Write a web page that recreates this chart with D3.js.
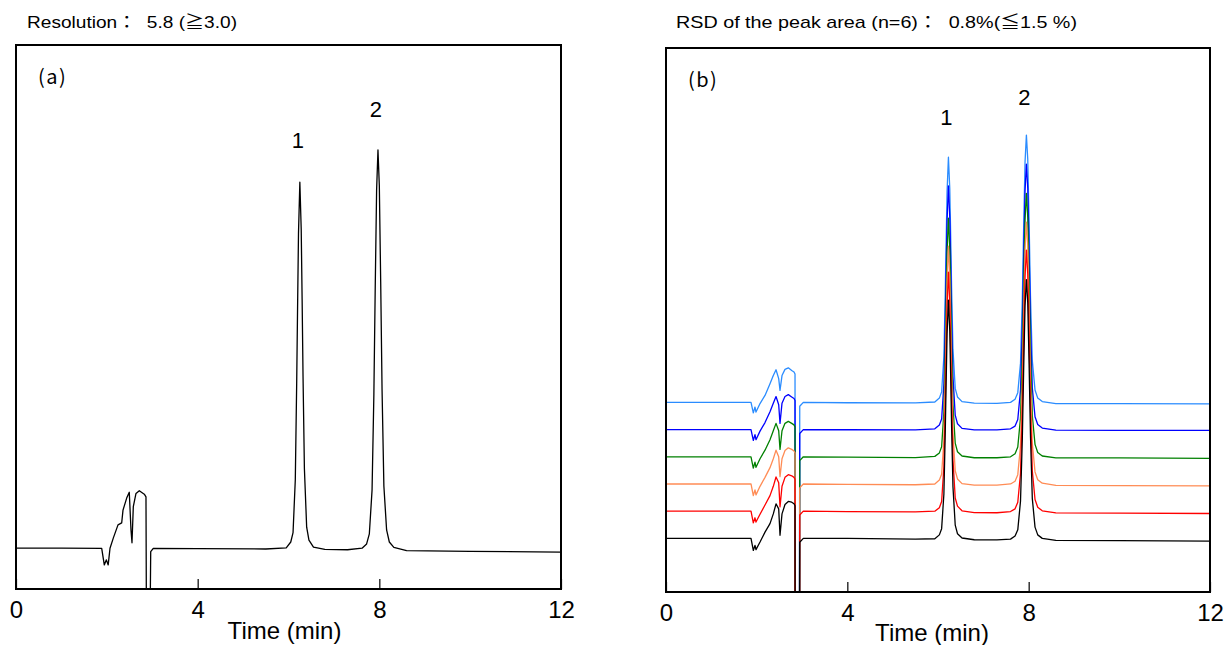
<!DOCTYPE html>
<html><head><meta charset="utf-8">
<script src="https://cdn.jsdelivr.net/npm/d3@7"></script>
<style>body{margin:0;background:#fff}svg{display:block}text{white-space:pre}</style>
</head><body>
<svg id="c" width="1225" height="645"></svg>
<script>
// ---- data ----
const titleA = "Resolution：  5.8 (≧3.0)";
const titleB = "RSD of the peak area (n=6)：  0.8%(≦1.5 %)";
const xTicks = [0, 4, 8, 12];
const xDomain = [0, 12];
const yDomain = [-10, 130];
const peakLabels = ["1", "2"];

// panel (a): single chromatogram
const timeA = [0, 1.0, 1.887, 1.944, 1.99, 2.03, 2.07, 2.142, 2.246, 2.327, 2.356, 2.437, 2.494, 2.532, 2.554, 2.583, 2.642, 2.715, 2.825, 2.862, 2.878, 2.935, 2.966, 3.023, 4.0, 5.5,
  5.95, 6.05, 6.10, 6.15, 6.18, 6.20, 6.22, 6.25, 6.28, 6.30, 6.32, 6.35, 6.40, 6.45, 6.55,
  6.8, 7.3,
  7.62, 7.72, 7.78, 7.84, 7.88, 7.91, 7.94, 7.97, 8.00, 8.03, 8.06, 8.10, 8.16, 8.22, 8.32,
  8.6, 10, 12];
const signalA = [0.5, 0.5, 0.46, -3.8, -2.5, -3.8, 0.5, 3.1, 6.5, 7.0, 10.3, 13.4, 14.9, 5.2, 1.9, 11.2, 14.6, 15.3, 14.4, 13.7, -40, -40, -0.4, 0.46, 0.4, 0.3,
  0.6, 2.1, 4.5, 18.2, 42.8, 62.6, 81.5, 94.7, 82.5, 64.5, 44.7, 21.0, 5.9, 2.6, 0.8,
  0.2, 0.1,
  0.5, 1.6, 4.2, 15.5, 40.2, 68.0, 92.7, 103.0, 93.7, 69.0, 41.2, 16.5, 5.2, 2.1, 0.7,
  -0.1, -0.3, -0.5];
const peakTimesA = [6.25, 7.97];
const peakLabelValA = [103.5, 111.4];

// panel (b): six overlaid (offset) injections
const timeB = [0, 1.0, 1.875, 1.926, 1.963, 1.985, 2.074, 2.184, 2.294, 2.367, 2.427, 2.486, 2.515, 2.559, 2.625, 2.698, 2.773, 2.824, 2.846, 2.86, 2.93, 2.95, 3.029, 4.0, 5.5,
  5.93, 6.03, 6.08, 6.13, 6.16, 6.18, 6.20, 6.23, 6.26, 6.28, 6.30, 6.33, 6.38, 6.43, 6.53,
  6.8, 7.3,
  7.60, 7.70, 7.76, 7.82, 7.86, 7.89, 7.92, 7.95, 7.98, 8.01, 8.04, 8.08, 8.14, 8.20, 8.30,
  8.6, 10, 12];
const run6 = [38.8, 38.8, 38.8, 36.1, 37.6, 36.3, 38.5, 40.6, 43.6, 45.7, 47.2, 44.9, 41.9, 45.7, 47.3, 47.7, 47.0, 46.6, 46.1, -150, -150, 37.8, 38.8, 38.7, 38.65,
  38.9, 39.9, 41.5, 50.6, 67.1, 80.4, 93.0, 101.9, 93.7, 81.6, 68.4, 52.5, 42.4, 40.2, 39.0,
  38.6, 38.55,
  38.8, 39.6, 41.3, 48.9, 65.5, 84.1, 100.7, 107.6, 101.3, 84.8, 66.2, 49.6, 42.0, 39.9, 39.0,
  38.5, 38.5, 38.4];
const run5 = [31.8, 31.8, 31.8, 29.0, 30.5, 29.2, 31.4, 33.6, 36.4, 38.6, 40.3, 38.2, 33.4, 38.6, 40.3, 40.8, 40.2, 39.8, 39.3, -150, -150, 30.8, 31.8, 31.75, 31.7,
  32.0, 33.0, 34.5, 43.6, 60.0, 73.1, 85.7, 94.5, 86.3, 74.4, 61.2, 45.5, 35.5, 33.3, 32.1,
  31.7, 31.7,
  32.0, 32.7, 34.4, 42.0, 58.4, 76.8, 93.3, 100.1, 93.9, 77.5, 59.1, 42.6, 35.1, 33.1, 32.2,
  31.65, 31.6, 31.6];
const run4 = [24.8, 24.8, 24.8, 21.9, 23.4, 22.1, 24.3, 26.5, 29.2, 31.5, 33.4, 31.5, 26.7, 31.5, 33.4, 33.9, 33.4, 33.0, 32.5, -150, -150, 23.8, 24.8, 24.7, 24.6,
  24.9, 25.8, 27.4, 36.3, 52.3, 65.3, 77.6, 86.2, 78.2, 66.5, 53.6, 38.2, 28.3, 26.1, 25.0,
  24.55, 24.55,
  24.8, 25.6, 27.3, 34.8, 51.1, 69.5, 85.8, 92.6, 86.4, 70.1, 51.8, 35.4, 28.0, 25.9, 25.0,
  24.5, 24.5, 24.4];
const run3 = [17.8, 17.8, 17.8, 14.8, 16.3, 15.0, 17.2, 19.5, 22.0, 24.3, 26.5, 24.8, 19.7, 24.3, 26.4, 27.1, 26.7, 26.3, 25.8, -150, -150, 16.8, 17.8, 17.7, 17.6,
  17.8, 18.8, 20.3, 29.2, 45.2, 58.1, 70.4, 79.0, 71.0, 59.3, 46.4, 31.0, 21.2, 19.1, 17.9,
  17.5, 17.5,
  17.8, 18.5, 20.2, 27.7, 43.9, 62.2, 78.4, 85.2, 79.1, 62.9, 44.6, 28.3, 20.9, 18.9, 18.0,
  17.45, 17.4, 17.3];
const run2 = [10.8, 10.8, 10.8, 7.8, 9.1, 8.0, 10.0, 12.4, 14.8, 17.2, 19.6, 18.1, 11.9, 17.2, 19.5, 20.2, 19.9, 19.5, 19.0, -150, -150, 9.8, 10.8, 10.7, 10.6,
  10.8, 11.7, 13.3, 22.2, 38.3, 51.3, 63.6, 72.3, 64.3, 52.5, 39.5, 24.1, 14.2, 12.1, 10.9,
  10.45, 10.4,
  10.7, 11.4, 13.1, 20.5, 36.8, 55.0, 71.2, 78.0, 71.9, 55.7, 37.4, 21.2, 13.8, 11.8, 10.9,
  10.35, 10.3, 10.2];
const run1 = [3.8, 3.8, 3.8, 0.7, 2.0, 0.9, 2.85, 5.4, 7.6, 10.1, 12.7, 11.4, 4.6, 10.1, 12.5, 13.3, 13.1, 12.7, 12.2, -150, -150, 2.8, 3.8, 3.8, 3.6,
  3.7, 4.7, 6.3, 15.2, 31.2, 44.2, 56.5, 65.1, 57.1, 45.4, 32.5, 17.1, 7.2, 5.0, 3.9,
  3.45, 3.4,
  3.6, 4.4, 6.0, 13.4, 29.5, 47.6, 63.7, 70.4, 64.4, 48.3, 30.2, 14.1, 6.7, 4.7, 3.8,
  3.3, 3.2, 3.1];
const runsB = [run6, run5, run4, run3, run2, run1];
const runColors = ["#2a8cff", "#0000ff", "#008000", "#ff8c55", "#ff0000", "#000000"];
const peakTimesB = [6.23, 7.95];
const peakLabelValB = [110.2, 115.3];

// ---- drawing ----
const svg = d3.select("#c");
const fontLatin = "'Liberation Sans', Arial, 'Noto Sans CJK JP', sans-serif";

function panel(opts) {
  const g = svg.append("g");
  const x = d3.scaleLinear().domain(xDomain).range([opts.left, opts.right]);
  const y = d3.scaleLinear().domain(yDomain).range([opts.bottom, opts.top]);
  const clipId = "clip" + opts.id;
  svg.append("clipPath").attr("id", clipId).append("rect")
    .attr("x", opts.left).attr("y", opts.top)
    .attr("width", opts.right - opts.left).attr("height", opts.bottom - opts.top);

  const line = d3.line().x(d => x(d[0])).y(d => y(d[1]));
  const tg = g.append("g").attr("clip-path", `url(#${clipId})`);
  opts.series.forEach((vals, i) => {
    tg.append("path")
      .datum(opts.time.map((t, k) => [t, vals[k]]))
      .attr("d", line)
      .attr("fill", "none")
      .attr("stroke", opts.colors[i])
      .attr("stroke-width", 1.3)
      .attr("stroke-linejoin", "round");
  });

  // axis
  const ax = g.append("g").attr("transform", `translate(0,${opts.bottom})`)
    .call(d3.axisBottom(x).tickValues(xTicks).tickFormat(d3.format("d"))
      .tickSizeInner(-10).tickSizeOuter(0).tickPadding(12));
  ax.select(".domain").remove();
  ax.selectAll(".tick line").attr("stroke", "#000").attr("stroke-width", 1.2);
  ax.selectAll(".tick text").attr("font-family", fontLatin).attr("font-size", 24).attr("fill", "#000");

  // frame
  g.append("rect").attr("x", opts.left).attr("y", opts.top)
    .attr("width", opts.right - opts.left).attr("height", opts.bottom - opts.top)
    .attr("fill", "none").attr("stroke", "#000").attr("stroke-width", 2);

  // axis title
  g.append("text").attr("x", (opts.left + opts.right) / 2 + opts.titleDx).attr("y", opts.bottom + opts.titleDy)
    .attr("text-anchor", "middle").attr("font-family", fontLatin).attr("font-size", 24)
    .text("Time (min)");

  // panel label
  g.append("text").attr("x", opts.left + 22).attr("y", opts.top + 39)
    .attr("font-family", "'Noto Sans CJK JP', sans-serif").attr("font-size", 20)
    .attr("letter-spacing", 1.5)
    .text(opts.label);

  // top title
  g.append("text").attr("x", opts.titleX).attr("y", 28)
    .attr("font-family", fontLatin).attr("font-size", 17)
    .attr("textLength", opts.titleLen).attr("lengthAdjust", "spacingAndGlyphs")
    .text(opts.title);

  // peak numbers
  opts.peakTimes.forEach((t, i) => {
    g.append("text").attr("x", x(t) - 2).attr("y", y(opts.peakVals[i]))
      .attr("text-anchor", "middle").attr("font-family", fontLatin).attr("font-size", 22)
      .text(peakLabels[i]);
  });
}

panel({id: "a", left: 16, right: 561, top: 45, bottom: 589,
  time: timeA, series: [signalA], colors: ["#000"], label: "(a)",
  title: titleA, titleX: 27, titleLen: 210, titleDx: -4, titleDy: 50,
  peakTimes: peakTimesA, peakVals: peakLabelValA});
panel({id: "b", left: 666, right: 1210, top: 48, bottom: 592,
  time: timeB, series: runsB, colors: runColors, label: "(b)",
  title: titleB, titleX: 676, titleLen: 401, titleDx: -6, titleDy: 49,
  peakTimes: peakTimesB, peakVals: peakLabelValB});
</script>
</body></html>
